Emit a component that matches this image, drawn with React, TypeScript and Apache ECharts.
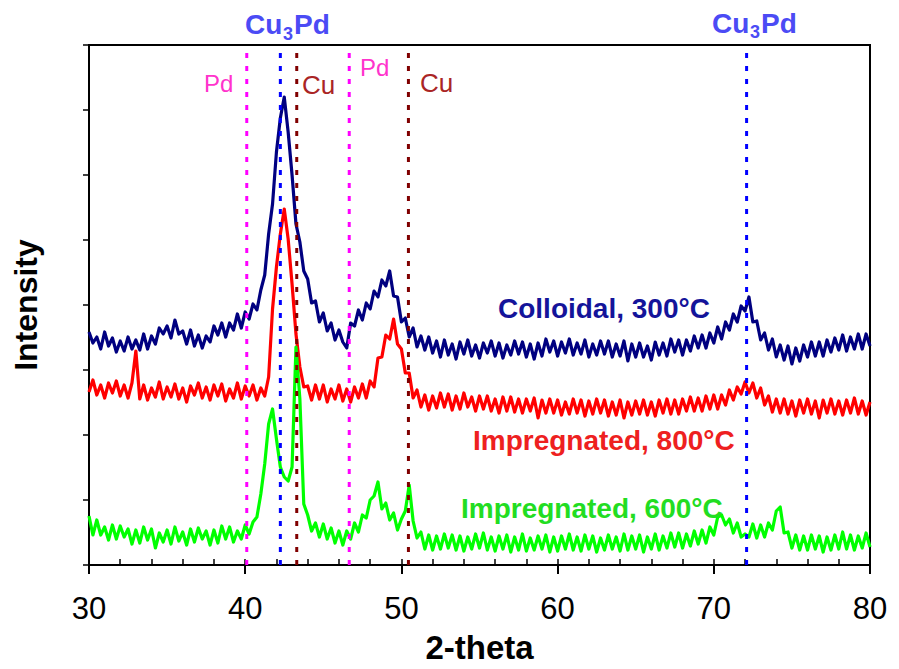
import React, { useEffect, useRef } from "react";
import * as echarts from "echarts";

// 2-theta sampling grid of the digitised patterns (degrees)
const thetaStart = 30;
const thetaStep = 0.25;

// Intensity (a.u.), one value per 0.25 degree from 30 to 80
const colloidal300 = [
  466, 444, 456, 432, 466, 438, 454, 426, 448, 428,
  456, 432, 450, 430, 462, 432, 458, 442, 474, 462,
  478, 454, 490, 462, 468, 442, 470, 438, 460, 434,
  458, 446, 478, 460, 484, 456, 484, 470, 502, 474,
  506, 492, 522, 510, 550, 580, 662, 722, 826, 894,
  936, 866, 780, 682, 646, 588, 572, 524, 528, 486,
  504, 468, 484, 450, 470, 446, 434, 484, 478, 510,
  490, 524, 512, 548, 536, 570, 558, 588, 538, 536,
  486, 494, 456, 474, 436, 458, 430, 456, 424, 448,
  416, 450, 420, 442, 412, 446, 422, 450, 418, 440,
  414, 444, 424, 448, 418, 444, 414, 440, 420, 448,
  422, 446, 416, 442, 412, 444, 418, 452, 426, 448,
  418, 446, 424, 452, 420, 444, 422, 450, 416, 442,
  420, 448, 422, 448, 416, 442, 418, 448, 408, 442,
  416, 444, 416, 438, 410, 446, 420, 444, 418, 452,
  426, 450, 420, 450, 428, 458, 434, 460, 434, 464,
  444, 476, 452, 486, 470, 502, 486, 518, 508, 536,
  486, 488, 450, 464, 430, 452, 416, 440, 410, 438,
  402, 434, 408, 440, 416, 446, 418, 446, 418, 450,
  426, 454, 430, 460, 428, 456, 432, 462, 432, 462,
  438,
];

const impregnated800 = [
  346, 370, 340, 360, 334, 364, 344, 368, 338, 360,
  334, 364, 428, 332, 360, 330, 354, 336, 366, 332,
  356, 336, 362, 332, 354, 326, 358, 340, 364, 334,
  356, 330, 360, 338, 362, 328, 352, 334, 364, 332,
  358, 338, 360, 330, 354, 338, 376, 512, 596, 662,
  712, 652, 562, 462, 396, 356, 358, 330, 360, 332,
  360, 326, 352, 332, 360, 328, 352, 326, 356, 334,
  362, 334, 368, 356, 414, 416, 460, 452, 492, 442,
  432, 384, 384, 334, 350, 316, 340, 310, 338, 314,
  344, 316, 342, 310, 338, 312, 344, 316, 336, 308,
  338, 312, 338, 308, 332, 304, 336, 308, 336, 306,
  332, 304, 332, 308, 334, 294, 330, 304, 332, 304,
  330, 300, 326, 302, 332, 304, 330, 298, 328, 302,
  332, 304, 330, 298, 326, 300, 330, 294, 326, 300,
  328, 302, 330, 300, 326, 298, 330, 304, 332, 302,
  330, 302, 332, 308, 336, 308, 334, 308, 338, 312,
  340, 312, 340, 320, 350, 330, 356, 342, 366, 344,
  364, 334, 354, 320, 338, 306, 332, 304, 332, 302,
  328, 298, 330, 304, 332, 302, 328, 294, 330, 304,
  332, 302, 328, 300, 330, 304, 334, 302, 328, 300,
  326,
];

const impregnated600 = [
  98, 60, 90, 60, 76, 50, 80, 52, 78, 56,
  72, 42, 70, 44, 76, 50, 72, 34, 64, 46,
  70, 42, 76, 48, 66, 40, 72, 46, 74, 52,
  68, 40, 70, 44, 78, 52, 76, 46, 68, 52,
  80, 62, 86, 96, 142, 202, 282, 312, 252, 196,
  176, 168, 196, 436, 332, 122, 100, 68, 84, 56,
  82, 52, 74, 44, 68, 40, 68, 52, 84, 66,
  100, 94, 130, 138, 166, 112, 124, 90, 104, 70,
  92, 108, 160, 88, 54, 66, 32, 60, 30, 58,
  32, 62, 34, 60, 30, 58, 28, 56, 32, 62,
  34, 64, 30, 56, 28, 58, 32, 60, 26, 56,
  30, 62, 28, 54, 30, 58, 32, 60, 26, 56,
  28, 58, 32, 62, 30, 56, 28, 60, 32, 58,
  26, 54, 30, 60, 32, 56, 28, 62, 30, 58,
  32, 60, 26, 56, 32, 62, 30, 58, 34, 64,
  36, 64, 34, 62, 38, 68, 42, 70, 44, 76,
  60, 96, 100, 80, 92, 64, 84, 56, 62, 56,
  82, 54, 80, 56, 84, 70, 108, 116, 64, 66,
  34, 60, 30, 58, 30, 60, 32, 58, 26, 56,
  30, 60, 32, 66, 32, 60, 30, 58, 34, 64,
  36,
];

const seriesNames = ["Colloidal, 300°C", "Impregnated, 800°C", "Impregnated, 600°C"];

// Reference reflection positions (2-theta)
const pdLines = [40.1, 46.66];
const cuLines = [43.3, 50.45];
const cu3pdLines = [42.25, 72.1];
const refLineTop = 1032;

const X_MIN = 30;
const X_MAX = 80;
const Y_MIN = 0;
const Y_MAX = 1040;

const FONT = '"Liberation Sans", Arial, Helvetica, sans-serif';

function toPairs(values: number[]) {
  return values.map((v, i) => [thetaStart + i * thetaStep, v]);
}

function txt(x: number, y: number, text: string, size: number, color: string, bold: boolean, align = "left") {
  return {
    type: "text",
    x,
    y,
    z: 100,
    silent: true,
    style: {
      text,
      fill: color,
      fontSize: size,
      fontWeight: bold ? "bold" : "normal",
      fontFamily: FONT,
      align,
      verticalAlign: "middle",
    },
  };
}

export default function App() {
  const ref = useRef<HTMLDivElement>(null);

  useEffect(() => {
    document.body.style.margin = "0";
    if (!ref.current) return;
    const chart = echarts.init(ref.current, undefined, { renderer: "svg" });

    const curves = [
      { name: seriesNames[0], data: colloidal300, color: "#000080" },
      { name: seriesNames[1], data: impregnated800, color: "#ff0000" },
      { name: seriesNames[2], data: impregnated600, color: "#00ff00" },
    ].map((c) => ({
      type: "line",
      name: c.name,
      data: toPairs(c.data),
      symbol: "none",
      silent: true,
      lineStyle: { color: c.color, width: 3.2, join: "round" },
      xAxisIndex: 0,
      yAxisIndex: 0,
    }));

    const refSeries: any[] = [];
    const addRef = (arr: number[], color: string) => {
      arr.forEach((t) => {
        refSeries.push({
          type: "line",
          data: [
            [t, Y_MIN],
            [t, refLineTop],
          ],
          symbol: "none",
          silent: true,
          lineStyle: { color, width: 3, type: [5, 8] },
          xAxisIndex: 0,
          yAxisIndex: 0,
        });
      });
    };
    addRef(pdLines, "#ff00ff");
    addRef(cuLines, "#800000");
    addRef(cu3pdLines, "#0000ff");

    const cu3pdColor = "#4b4bf5";
    const graphics: any[] = [
      txt(245, 24, "Cu", 28, cu3pdColor, true),
      txt(283, 34, "3", 18, cu3pdColor, true),
      txt(294, 24, "Pd", 28, cu3pdColor, true),
      txt(712, 23, "Cu", 28, cu3pdColor, true),
      txt(750, 32, "3", 18, cu3pdColor, true),
      txt(761, 23, "Pd", 28, cu3pdColor, true),
      txt(204, 83, "Pd", 24, "#ff33cc", false),
      txt(302, 85, "Cu", 26, "#aa2525", false),
      txt(360, 67, "Pd", 24, "#ff33cc", false),
      txt(420, 83, "Cu", 26, "#aa2525", false),
      txt(498, 308, seriesNames[0], 28, "#14149a", true),
      txt(473, 440, seriesNames[1], 28, "#ee2020", true),
      txt(461, 508, seriesNames[2], 28, "#22dd22", true),
    ];

    chart.setOption({
      animation: false,
      backgroundColor: "#ffffff",
      grid: {
        left: 89,
        right: 29,
        top: 45,
        bottom: 103,
        show: true,
        borderColor: "#000",
        borderWidth: 2,
        backgroundColor: "transparent",
      },
      xAxis: [
        {
          type: "value",
          min: X_MIN,
          max: X_MAX,
          interval: 10,
          position: "bottom",
          name: "2-theta",
          nameLocation: "middle",
          nameGap: 66,
          nameTextStyle: { fontSize: 33, fontWeight: "bold", color: "#000", fontFamily: FONT },
          axisLine: { show: true, onZero: false, lineStyle: { color: "#000", width: 2 } },
          axisTick: { show: true, inside: false, length: 9, lineStyle: { color: "#000", width: 2 } },
          axisLabel: { fontSize: 31, color: "#000", fontFamily: FONT, margin: 28 },
          splitLine: { show: false },
        },
        {
          type: "value",
          min: X_MIN,
          max: X_MAX,
          interval: 2,
          position: "bottom",
          gridIndex: 0,
          axisLine: { show: false },
          axisTick: { show: true, inside: true, length: 6, lineStyle: { color: "#000", width: 1.5 } },
          axisLabel: { show: false },
          splitLine: { show: false },
        },
      ],
      yAxis: {
        type: "value",
        min: Y_MIN,
        max: Y_MAX,
        interval: 130,
        name: "Intensity",
        nameLocation: "middle",
        nameGap: 47,
        nameTextStyle: { fontSize: 32, fontWeight: "bold", color: "#000", fontFamily: FONT },
        axisLine: { show: true, onZero: false, lineStyle: { color: "#000", width: 2 } },
        axisTick: { show: true, inside: false, length: 6, lineStyle: { color: "#000", width: 1.5 } },
        axisLabel: { show: false },
        splitLine: { show: false },
      },
      series: [...curves, ...refSeries],
      graphic: graphics,
    });

    return () => chart.dispose();
  }, []);

  return <div ref={ref} style={{ width: 899, height: 669 }} />;
}
